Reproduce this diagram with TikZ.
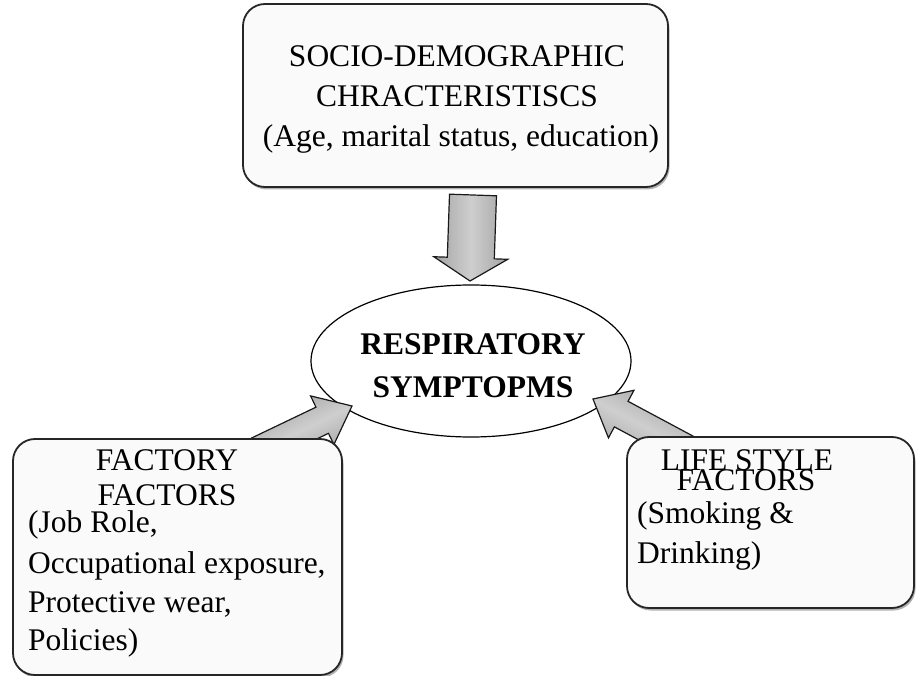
\documentclass[tikz,border=0pt]{standalone}
\usepackage{fontspec}
\setmainfont{Liberation Serif}
\usetikzlibrary{calc,shapes.geometric,shadows}
\tikzset{
  boxstyle/.style={draw=black!85, line width=1.8pt, rounded corners=22pt,
    fill=white!98!black, inner sep=0pt,
    drop shadow={shadow xshift=1.5pt, shadow yshift=-2.5pt, opacity=0.3, fill=black}},
  txt/.style={font=\fontsize{31.5}{39}\selectfont, inner sep=0pt, anchor=base},
  ltxt/.style={txt, anchor=base west},
  btxt/.style={txt, font=\fontsize{31.5}{39}\selectfont\bfseries},
  blk/.style={draw=black!90, line width=1.2pt, line join=miter,
    left color=gray!72, right color=gray!72, middle color=gray!38},
}
% #1 name, #2 tail, #3 tip, #4 shaft half width, #5 head half width, #6 head length, #7 shading angle
\newcommand{\blkarrow}[7]{%
  \coordinate (#1-h) at ($(#3)!#6!(#2)$);
  \path[blk, shading angle=#7] ($(#2)!#4!90:(#3)$) -- ($(#1-h)!#4!90:(#3)$)
    -- ($(#1-h)!#5!90:(#3)$) -- (#3) -- ($(#1-h)!#5!-90:(#3)$)
    -- ($(#1-h)!#4!-90:(#3)$) -- ($(#2)!#4!-90:(#3)$) -- cycle;}
\begin{document}
\begin{tikzpicture}[x=1pt, y=-1pt]
\useasboundingbox (0,0) rectangle (916,676);
% centre ellipse
\node[ellipse, draw=black, line width=1.2pt, fill=white, minimum width=320pt,
      minimum height=152pt, inner sep=0pt] (resp) at (471,361) {};
% block arrows
\coordinate (dtail) at (473,195);
\coordinate (dtip) at (470,281);
\coordinate (ltail) at (258,451);
\coordinate (ltip) at (352,406);
\coordinate (rtail) at (692,452);
\coordinate (rtip) at (593,399);
\blkarrow{da}{dtail}{dtip}{23.5pt}{37pt}{23pt}{90}
\blkarrow{la}{ltail}{ltip}{14.5pt}{27pt}{33pt}{26}
\blkarrow{ra}{rtail}{rtip}{14.5pt}{27pt}{32pt}{152}
% boxes
\node[boxstyle, minimum width=425pt, minimum height=183pt] (socio) at (455.5,95.5) {};
\node[boxstyle, minimum width=329pt, minimum height=236pt] (factory) at (177.5,557) {};
\node[boxstyle, minimum width=287pt, minimum height=171pt] (life) at (770.5,522.5) {};
% texts
\node[txt] (s1) at (457,67) {SOCIO-DEMOGRAPHIC};
\node[txt] (s2) at (457,107) {CHRACTERISTISCS};
\node[txt] (s3) at (461,147) {(Age, marital status, education)};
\node[btxt] (r1) at (473,355) {RESPIRATORY};
\node[btxt] (r2) at (473,398) {SYMPTOPMS};
\node[txt] (f1) at (167,470) {FACTORY};
\node[txt] (f2) at (167,505) {FACTORS};
\node[ltxt] (f3) at (28,532) {(Job Role,};
\node[ltxt] (f4) at (28,573) {Occupational exposure,};
\node[ltxt] (f5) at (28,612) {Protective wear,};
\node[ltxt] (f6) at (28,650) {Policies)};
\node[txt] (l1) at (747,470) {LIFE STYLE};
\node[txt] (l2) at (746,490) {FACTORS};
\node[ltxt] (l3) at (637,523) {(Smoking \&};
\node[ltxt] (l4) at (637,563) {Drinking)};
\end{tikzpicture}
\end{document}
